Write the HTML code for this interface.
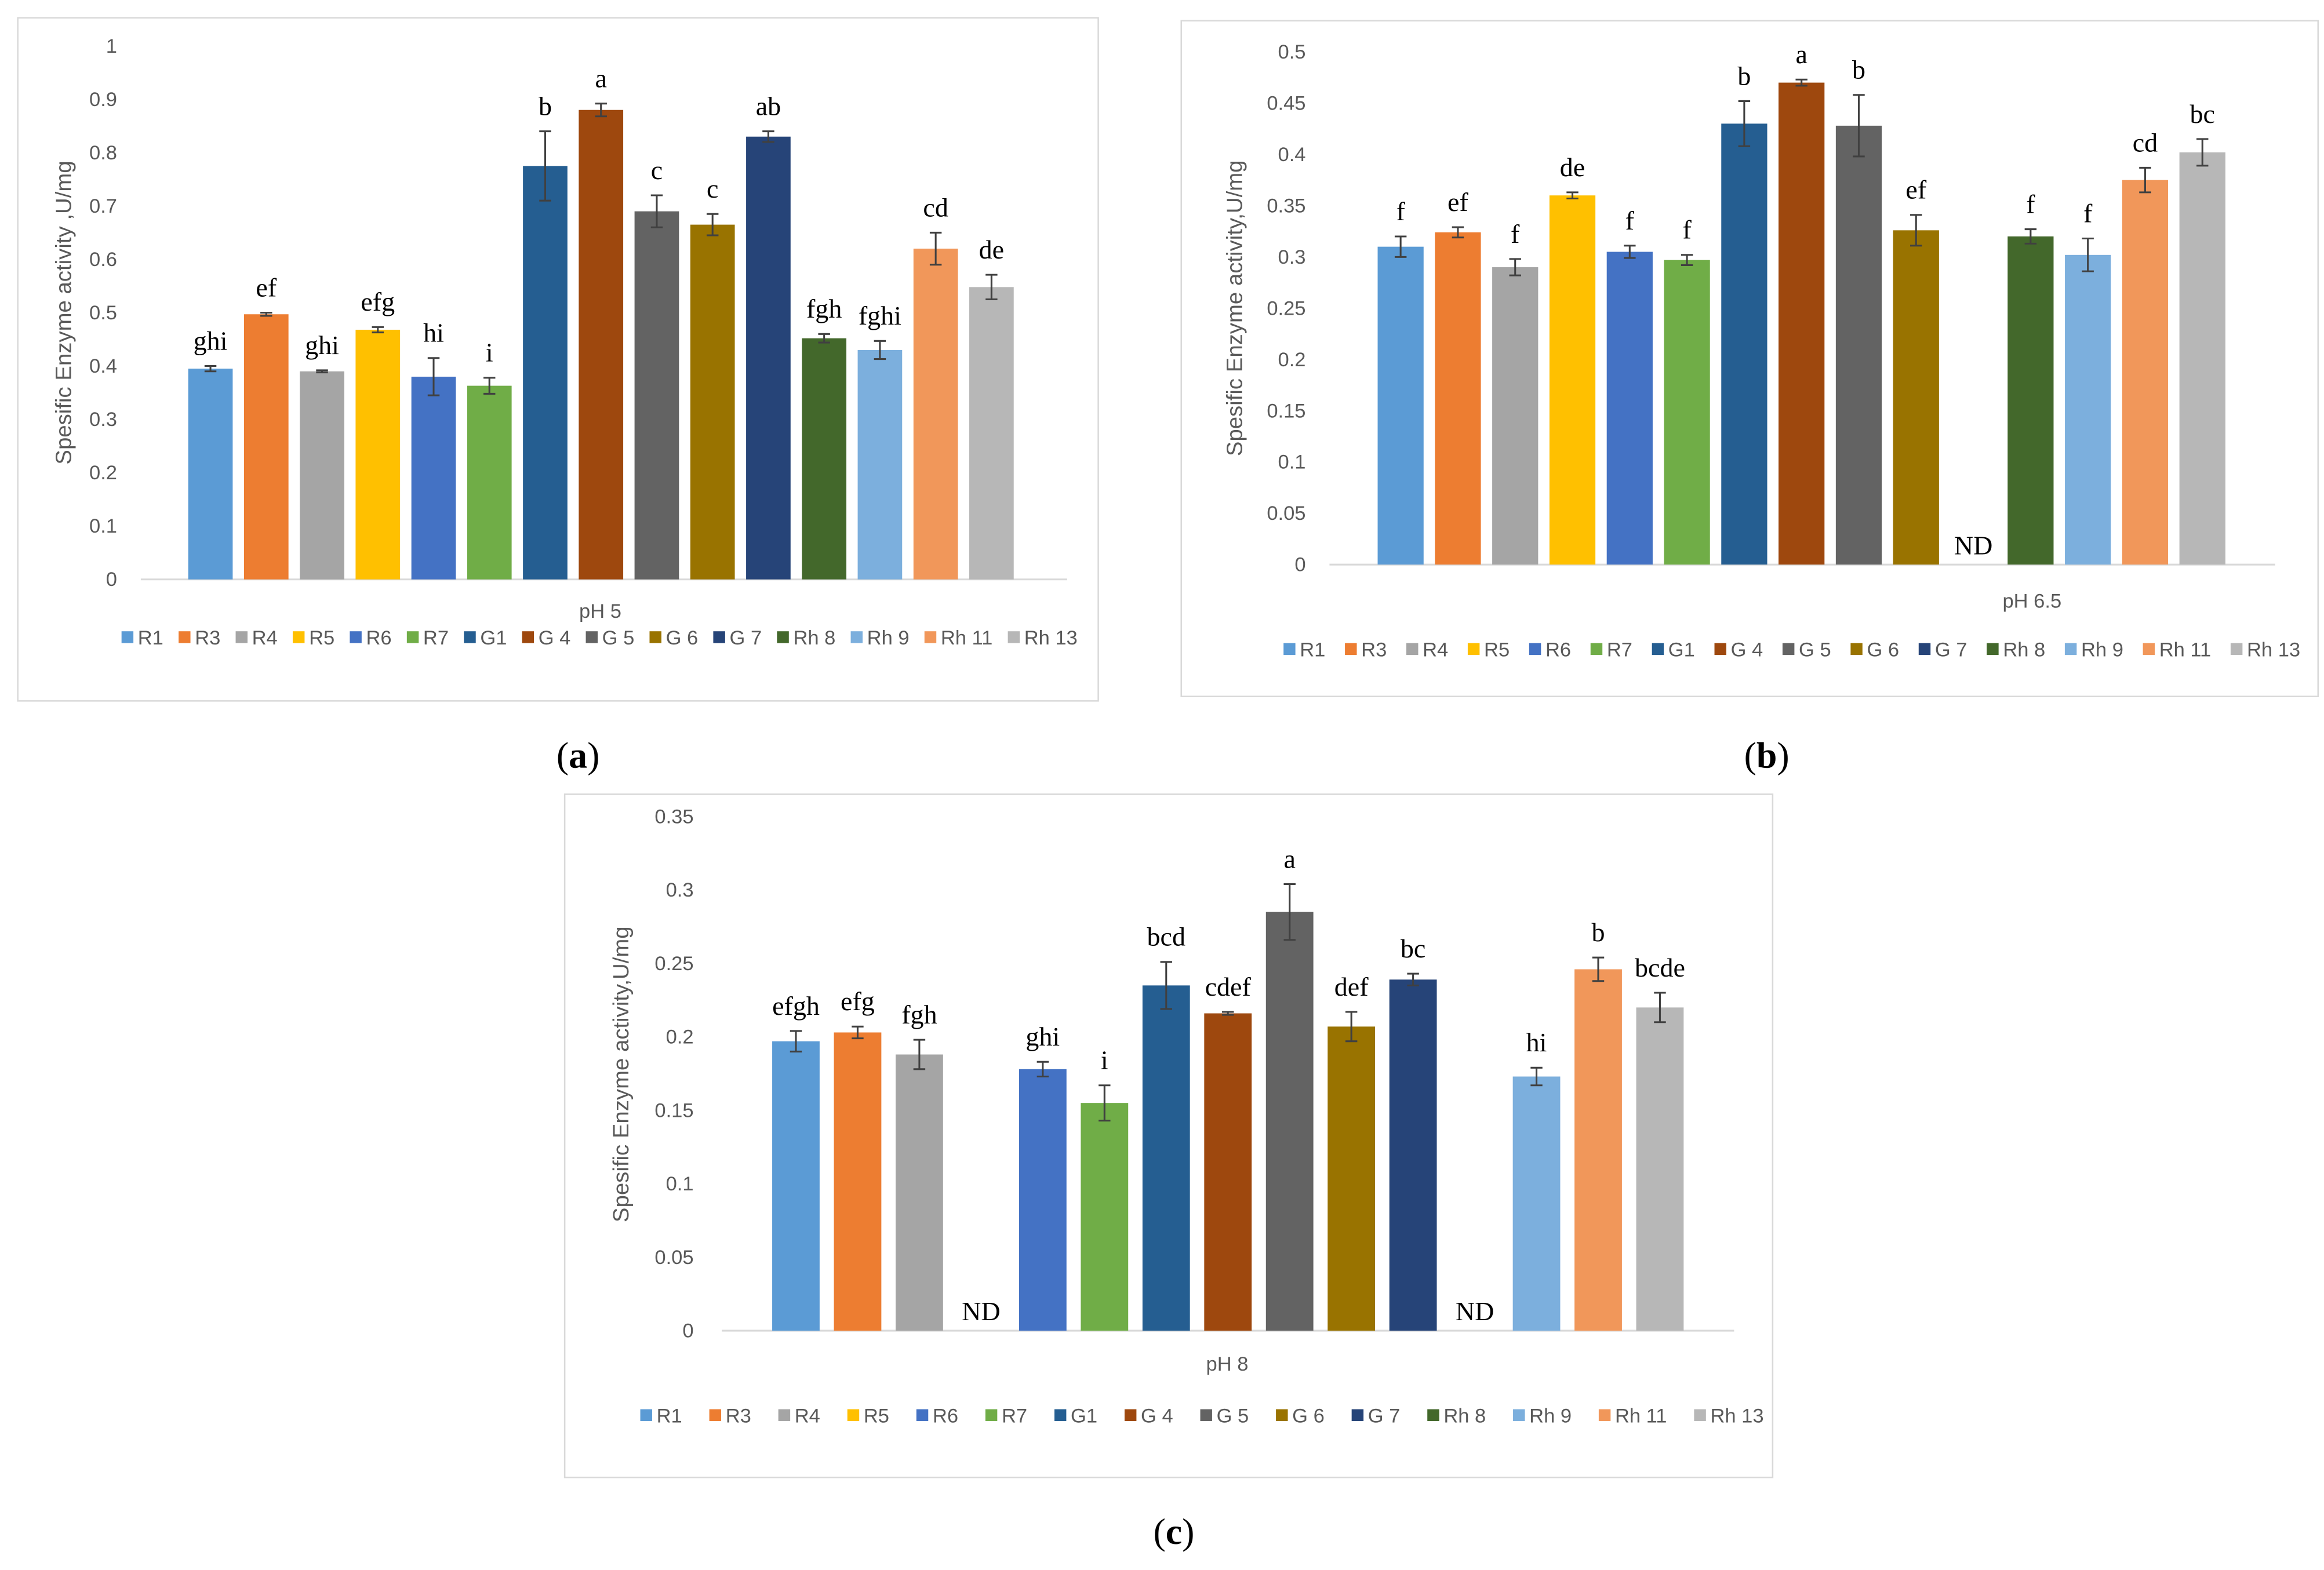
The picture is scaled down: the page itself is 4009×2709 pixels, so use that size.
<!DOCTYPE html>
<html><head><meta charset="utf-8"><style>html,body{margin:0;padding:0;background:#fff}svg{display:block}</style></head>
<body>
<svg id="s" width="4009" height="2709" viewBox="0 0 1568 1059.5" preserveAspectRatio="none" xmlns="http://www.w3.org/2000/svg" font-family="Liberation Sans, sans-serif"></svg>
<script>
const categories=["R1","R3","R4","R5","R6","R7","G1","G 4","G 5","G 6","G 7","Rh 8","Rh 9","Rh 11","Rh 13"];
const colors=["#5B9BD5","#ED7D31","#A5A5A5","#FFC000","#4472C4","#70AD47","#255E91","#9E480E","#636363","#997300","#264478","#43682B","#7CAFDD","#F1975A","#B7B7B7"];
const valuesA=[0.395,0.497,0.39,0.468,0.38,0.363,0.775,0.88,0.69,0.665,0.83,0.452,0.43,0.62,0.548];
const errorsA=[0.005,0.003,0.002,0.005,0.035,0.015,0.065,0.012,0.03,0.02,0.01,0.008,0.017,0.03,0.023];
const lettersA=["ghi","ef","ghi","efg","hi","i","b","a","c","c","ab","fgh","fghi","cd","de"];
const ticksA=["0","0.1","0.2","0.3","0.4","0.5","0.6","0.7","0.8","0.9","1"];
const valuesB=[0.31,0.324,0.29,0.36,0.305,0.297,0.43,0.47,0.428,0.326,null,0.32,0.302,0.375,0.402];
const errorsB=[0.01,0.005,0.008,0.003,0.006,0.005,0.022,0.003,0.03,0.015,0,0.007,0.016,0.012,0.013];
const lettersB=["f","ef","f","de","f","f","b","a","b","ef","ND","f","f","cd","bc"];
const ticksB=["0","0.05","0.1","0.15","0.2","0.25","0.3","0.35","0.4","0.45","0.5"];
const valuesC=[0.197,0.203,0.188,null,0.178,0.155,0.235,0.216,0.285,0.207,0.239,null,0.173,0.246,0.22];
const errorsC=[0.007,0.004,0.01,0,0.005,0.012,0.016,0.001,0.019,0.01,0.004,0,0.006,0.008,0.01];
const lettersC=["efgh","efg","fgh","ND","ghi","i","bcd","cdef","a","def","bc","ND","hi","b","bcde"];
const ticksC=["0","0.05","0.1","0.15","0.2","0.25","0.3","0.35"];
const NS="http://www.w3.org/2000/svg";
const svg=document.getElementById('s');
function mk(tag,attrs,parent,text){const e=document.createElementNS(NS,tag);for(const k in attrs)e.setAttribute(k,attrs[k]);if(text!==undefined)e.textContent=text;(parent||svg).appendChild(e);return e;}
function panel(cfg){
  const g=mk('g',{});
  
  
  const box=mk('rect',{x:cfg.box[0],y:cfg.box[1],width:cfg.box[2]-cfg.box[0],height:cfg.box[3]-cfg.box[1],fill:'#fff',stroke:'#d9d9d9','stroke-width':1},g);
  
  
  const max=parseFloat(cfg.ticks[cfg.ticks.length-1]);
  const y=v=>cfg.y0-(v/max)*(cfg.y0-cfg.yTop);
  const x=i=>cfg.x0+i*cfg.step;
  cfg.ticks.forEach(t=>{const e=mk('text',{x:cfg.tickX,y:y(parseFloat(t))+4.5,'text-anchor':'end','font-size':13.5,fill:'#595959'},g,t);
    });
  const ax=mk('line',{x1:cfg.axis[0],x2:cfg.axis[1],y1:cfg.y0,y2:cfg.y0,stroke:'#d9d9d9','stroke-width':1.2},g);
  
  const yt=mk('text',{x:0,y:0,transform:`translate(${cfg.titleX},${cfg.titleY}) rotate(-90)`,'text-anchor':'middle','font-size':15,fill:'#595959'},g,cfg.ytitle);
  
  cfg.values.forEach((v,i)=>{
    const cx=x(i);
    if(v===null){const nd=mk('text',{x:cx,y:cfg.y0-7,'text-anchor':'middle','font-size':18,'font-family':'Liberation Serif, serif',fill:'#000'},g,'ND');
      return;}
    const b=mk('rect',{x:cx-cfg.bw/2,y:y(v),width:cfg.bw,height:cfg.y0-y(v),fill:colors[i]},g);
    
    
    const e=cfg.errors[i],t=y(v+e),bo=y(v-e);
    const eb=mk('path',{d:`M${cx},${t}V${bo}M${cx-4},${t}H${cx+4}M${cx-4},${bo}H${cx+4}`,stroke:'#404040','stroke-width':1.2,fill:'none'},g);
    
    const l=mk('text',{x:cx,y:t-11,'text-anchor':'middle','font-size':18,'font-family':'Liberation Serif, serif',fill:'#000'},g,cfg.letters[i]);
    
  });
  const xl=mk('text',{x:cfg.xlab[0],y:cfg.xlab[1],'text-anchor':'middle','font-size':13.5,fill:'#595959'},g,cfg.xtitle);
  
  const lg=mk('g',{},g);
  
  const items=[];let total=0;
  categories.forEach((c,i)=>{const it=mk('g',{},lg);
    
    mk('rect',{x:0,y:-9,width:8,height:8,fill:colors[i]},it);
    const tx=mk('text',{x:11,y:0,'font-size':13.5,fill:'#595959'},it,c);
    const w=11+tx.getComputedTextLength();items.push([it,w]);total+=w;});
  const gap=((cfg.legend[1]-cfg.legend[0])-total)/(categories.length-1);
  let px=cfg.legend[0];
  items.forEach(([it,w])=>{it.setAttribute('transform',`translate(${px},${cfg.legend[2]+5})`);px+=w+gap;});
  const cap=mk('text',{x:cfg.cap[0],y:cfg.cap[1],'text-anchor':'middle','font-size':25,'font-family':'Liberation Serif, serif',fill:'#000'},svg);
  mk('tspan',{},cap,'(');mk('tspan',{'font-weight':'bold'},cap,cfg.capl);mk('tspan',{},cap,')');
  
}
panel({name:'chart-ph5',box:[12,12,741,473],y0:391,yTop:31,x0:142,step:37.64,bw:30,tickX:79,axis:[95,720],
  ticks:ticksA,values:valuesA,errors:errorsA,letters:lettersA,ytitle:'Spesific Enzyme activity ,U/mg',titleX:48,titleY:211,
  xtitle:'pH 5',xlab:[405,417],legend:[82,727,430],cap:[390,518],capl:'a'});
panel({name:'chart-ph6-5',box:[797,14,1564,470],y0:381,yTop:35,x0:945,step:38.64,bw:31,tickX:881,axis:[897,1535],
  ticks:ticksB,values:valuesB,errors:errorsB,letters:lettersB,ytitle:'Spesific Enzyme activity,U/mg',titleX:838,titleY:208,
  xtitle:'pH 6.5',xlab:[1371,410],legend:[866,1552,438],cap:[1192,518],capl:'b'});
panel({name:'chart-ph8',box:[381,536,1196,997],y0:898,yTop:551,x0:537,step:41.64,bw:32,tickX:468,axis:[487,1170],
  ticks:ticksC,values:valuesC,errors:errorsC,letters:lettersC,ytitle:'Spesific Enzyme activity,U/mg',titleX:424,titleY:725,
  xtitle:'pH 8',xlab:[828,925],legend:[432,1190,955],cap:[792,1042],capl:'c'});
</script>
</body></html>
